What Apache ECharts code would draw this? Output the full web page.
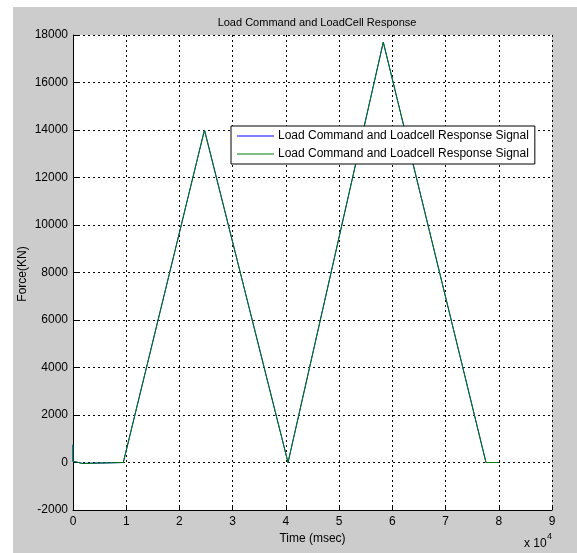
<!DOCTYPE html>
<html>
<head>
<meta charset="utf-8">
<script src="https://cdn.jsdelivr.net/npm/echarts@6/dist/echarts.min.js"></script>
<style>
  html, body { margin: 0; padding: 0; background: #ffffff; }
  #chart { width: 577px; height: 553px; }
</style>
</head>
<body>
<div id="chart"></div>
<script>
// Time stamps (msec) and force readings (KN)
const timeMs = [0, 0, 600, 1800, 9450, 24700, 40400, 58300, 77600, 80000];
const commandForce = [750, 40, 20, -40, 0, 14000, 0, 17700, 0, 0];
const loadcellForce = [750, 40, 20, -40, 0, 14000, 0, 17700, 0, 0];

const xTicks = [0, 1, 2, 3, 4, 5, 6, 7, 8, 9];
const yTicks = [-2000, 0, 2000, 4000, 6000, 8000, 10000, 12000, 14000, 16000, 18000];

const titleText = 'Load Command and LoadCell Response';
const legendText = 'Load Command and Loadcell Response Signal';
const xName = 'Time (msec)';
const yName = 'Force(KN)';

const FONT = '"Liberation Sans", Arial, sans-serif';

function pairs(xs, ys) {
  return xs.map((x, i) => [x, ys[i]]);
}

const chart = echarts.init(document.getElementById('chart'), null, { renderer: 'canvas' });

const plotLeft = 73, plotTop = 35, plotRight = 25, plotBottom = 43;

chart.setOption({
  backgroundColor: '#ffffff',
  animation: false,
  graphic: [
    {
      type: 'rect', z: -10, silent: true,
      shape: { x: 13, y: 7, width: 577 - 13, height: 553 - 7 },
      style: { fill: '#cccccc' }
    },
    {
      type: 'rect', z: -9, silent: true,
      shape: { x: plotLeft, y: plotTop, width: 577 - plotLeft - plotRight, height: 553 - plotTop - plotBottom },
      style: { fill: '#ffffff' }
    },
    {
      // vertical axis caption
      type: 'text', x: 22.5, y: 274, rotation: Math.PI / 2,
      style: { text: yName, font: '12px ' + FONT, fill: '#000000', align: 'center', verticalAlign: 'middle' }
    },
    {
      type: 'text', left: 524, top: 538,
      style: { text: 'x 10', font: '12px ' + FONT, fill: '#000000' }
    },
    {
      type: 'text', left: 547, top: 532,
      style: { text: '4', font: '9px ' + FONT, fill: '#000000' }
    }
  ],
  title: {
    text: titleText,
    left: 312, top: 12, textAlign: 'center',
    textStyle: { fontSize: 11, fontWeight: 'normal', color: '#000000', fontFamily: FONT }
  },
  legend: {
    orient: 'vertical',
    left: 231, top: 126,
    padding: [3, 6, 3, 6],
    itemGap: 4,
    icon: 'rect',
    itemWidth: 37, itemHeight: 1.2,
    backgroundColor: '#ffffff',
    borderColor: '#000000', borderWidth: 1, borderRadius: 0,
    data: ['command', 'loadcell'],
    formatter: () => legendText,
    textStyle: { fontSize: 12, lineHeight: 14, color: '#000000', fontFamily: FONT, padding: [0, 0, 0, -1] }
  },
  grid: { left: plotLeft, top: plotTop, right: plotRight, bottom: plotBottom, containLabel: false },
  xAxis: {
    type: 'value',
    min: 0, max: 90000, interval: 10000,
    name: xName, nameLocation: 'middle', nameGap: 22,
    nameTextStyle: { fontSize: 12, color: '#000000', fontFamily: FONT },
    axisLine: { show: true, onZero: false, lineStyle: { color: '#000000', width: 1 } },
    axisTick: { show: true, inside: true, length: 5, lineStyle: { color: '#000000' } },
    axisLabel: {
      fontSize: 12, color: '#000000', fontFamily: FONT, margin: 6,
      formatter: v => String(xTicks[Math.round(v / 10000)])
    },
    splitLine: { show: true, lineStyle: { color: '#000000', type: [2, 3], width: 1 } }
  },
  yAxis: {
    type: 'value',
    min: -2000, max: 18000, interval: 2000,
    axisLine: { show: true, onZero: false, lineStyle: { color: '#000000', width: 1 } },
    axisTick: { show: true, inside: true, length: 5, lineStyle: { color: '#000000' } },
    axisLabel: {
      fontSize: 12, color: '#000000', fontFamily: FONT, margin: 5,
      formatter: v => String(yTicks[Math.round((v + 2000) / 2000)])
    },
    splitLine: { show: true, lineStyle: { color: '#000000', type: [2, 3], width: 1 } }
  },
  series: [
    {
      name: 'command', type: 'line', symbol: 'none',
      data: pairs(timeMs, commandForce),
      lineStyle: { color: '#0000ff', width: 1 }, itemStyle: { color: '#0000ff' },
      z: 2
    },
    {
      name: 'loadcell', type: 'line', symbol: 'none',
      data: pairs(timeMs, loadcellForce),
      lineStyle: { color: '#008000', width: 1 }, itemStyle: { color: '#008000' },
      z: 3
    }
  ]
});
</script>
</body>
</html>
